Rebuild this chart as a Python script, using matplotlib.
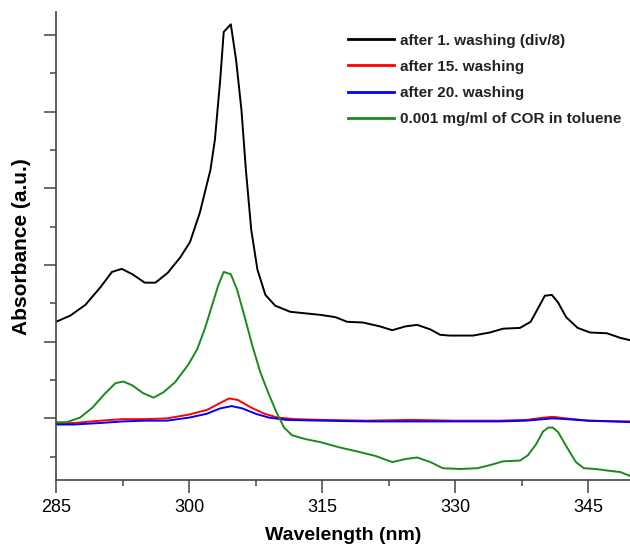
import numpy as np
import matplotlib
matplotlib.use("Agg")
import matplotlib.pyplot as plt
from matplotlib.ticker import MultipleLocator

plt.rcParams['font.family'] = ['Liberation Sans', 'DejaVu Sans']

# wavelength (nm) / absorbance (a.u.)
wl_black = [285.0, 286.6, 288.3, 290.0, 291.3, 292.4, 293.6, 295.0, 296.2, 297.6,
            299.0, 300.1, 301.2, 302.4, 302.9, 303.5, 303.9, 304.7, 305.3, 305.9,
            306.4, 307.0, 307.7, 308.6, 309.7, 311.4, 313.1, 314.8, 316.5, 317.8,
            319.6, 321.5, 322.9, 324.4, 325.7, 327.2, 328.3, 329.4, 332.0, 333.9,
            335.4, 337.3, 338.5, 339.4, 340.1, 340.9, 341.6, 342.5, 343.8, 345.2,
            347.1, 348.6, 349.7]
abs_black = [1.26, 1.34, 1.48, 1.71, 1.91, 1.95, 1.88, 1.77, 1.77, 1.90,
             2.10, 2.30, 2.68, 3.24, 3.63, 4.41, 5.04, 5.14, 4.67, 4.02,
             3.24, 2.46, 1.94, 1.61, 1.47, 1.39, 1.37, 1.35, 1.32, 1.26,
             1.25, 1.20, 1.15, 1.20, 1.22, 1.16, 1.09, 1.08, 1.08, 1.12,
             1.17, 1.18, 1.26, 1.45, 1.60, 1.61, 1.51, 1.32, 1.18, 1.12,
             1.11, 1.05, 1.02]

wl_green = [285.0, 286.2, 287.7, 289.1, 290.4, 291.7, 292.6, 293.6, 294.8, 296.0,
            297.1, 298.4, 299.9, 300.9, 301.8, 302.6, 303.3, 303.9, 304.7, 305.4,
            306.2, 307.1, 308.0, 308.9, 309.8, 310.7, 311.6, 313.1, 314.8, 317.0,
            318.9, 321.0, 322.9, 324.4, 325.7, 327.2, 328.6, 330.6, 332.5, 333.9,
            335.4, 337.3, 338.2, 339.1, 339.9, 340.5, 341.0, 341.6, 342.5, 343.6,
            344.5, 345.8, 347.1, 348.6, 349.7]
abs_green = [-0.05, -0.05, 0.01, 0.14, 0.31, 0.46, 0.48, 0.43, 0.33, 0.27,
             0.34, 0.47, 0.70, 0.90, 1.18, 1.48, 1.74, 1.91, 1.88, 1.68,
             1.35, 0.96, 0.61, 0.34, 0.09, -0.12, -0.22, -0.27, -0.31, -0.38,
             -0.43, -0.49, -0.57, -0.53, -0.51, -0.57, -0.65, -0.66, -0.65, -0.61,
             -0.56, -0.55, -0.48, -0.34, -0.17, -0.12, -0.12, -0.18, -0.36, -0.57,
             -0.65, -0.66, -0.68, -0.70, -0.75]

wl_red = [285.0, 287.0, 290.0, 292.5, 295.0, 297.5, 300.0, 302.0, 303.5, 304.5,
          305.5, 307.0, 308.5, 310.0, 312.0, 315.0, 320.0, 325.0, 330.0, 335.0,
          338.0, 340.0, 341.0, 342.5, 345.0, 350.0]
abs_red = [-0.07, -0.06, -0.03, -0.01, -0.01, 0.0, 0.05, 0.11, 0.20, 0.26,
           0.24, 0.14, 0.06, 0.01, -0.01, -0.02, -0.03, -0.02, -0.03, -0.03,
           -0.02, 0.01, 0.02, 0.0, -0.03, -0.04]

wl_blue = [285.0, 287.0, 290.0, 292.5, 295.0, 297.5, 300.0, 302.0, 303.5, 304.8,
           306.0, 307.5, 309.0, 311.0, 315.0, 320.0, 325.0, 330.0, 335.0, 338.0,
           340.0, 341.0, 342.5, 345.0, 350.0]
abs_blue = [-0.08, -0.08, -0.06, -0.04, -0.03, -0.03, 0.01, 0.06, 0.13, 0.16,
            0.13, 0.06, 0.01, -0.02, -0.03, -0.04, -0.04, -0.04, -0.04, -0.03,
            -0.01, 0.0, -0.01, -0.03, -0.05]

labels = ["after 1. washing (div/8)", "after 15. washing",
          "after 20. washing", "0.001 mg/ml of COR in toluene"]

fig = plt.figure(figsize=(6.3, 5.46), dpi=100)
ax = fig.add_axes([0.089, 0.12, 0.911, 0.858])

ax.plot(wl_black, abs_black, color='black', lw=1.4, label=labels[0])
ax.plot(wl_red, abs_red, color='red', lw=1.4, label=labels[1])
ax.plot(wl_blue, abs_blue, color='blue', lw=1.4, label=labels[2])
ax.plot(wl_green, abs_green, color='#1a8a1a', lw=1.4, label=labels[3])

ax.set_xlim(285, 349.7)
ax.set_ylim(-0.81, 5.3)
ax.xaxis.set_major_locator(MultipleLocator(15))
ax.xaxis.set_minor_locator(MultipleLocator(7.5))
ax.yaxis.set_major_locator(MultipleLocator(1))
ax.yaxis.set_minor_locator(MultipleLocator(0.5))

for s in ['top', 'right']:
    ax.spines[s].set_visible(False)
for s in ['left', 'bottom']:
    ax.spines[s].set_color('#444444')
    ax.spines[s].set_linewidth(1.2)

ax.tick_params(which='major', length=9, width=1.1, color='#444444', labelsize=13, pad=4)
ax.tick_params(which='minor', length=4, width=1.1, color='#444444')
ax.tick_params(axis='y', which='both', labelleft=False)

ax.set_xlabel("Wavelength (nm)", fontsize=14, fontweight='bold', labelpad=8)
ax.set_ylabel("Absorbance (a.u.)", fontsize=15, fontweight='bold', labelpad=9)

leg = ax.legend(loc='upper left', bbox_to_anchor=(0.509, 0.954), frameon=False,
                borderpad=0, borderaxespad=0,
                handlelength=3.0, handletextpad=0.4, labelspacing=0.8,
                prop={'size': 11, 'weight': 'bold'})
for line in leg.get_lines():
    line.set_linewidth(2)
for t in leg.get_texts():
    t.set_color('#222222')

fig.savefig("out.png", dpi=100)
